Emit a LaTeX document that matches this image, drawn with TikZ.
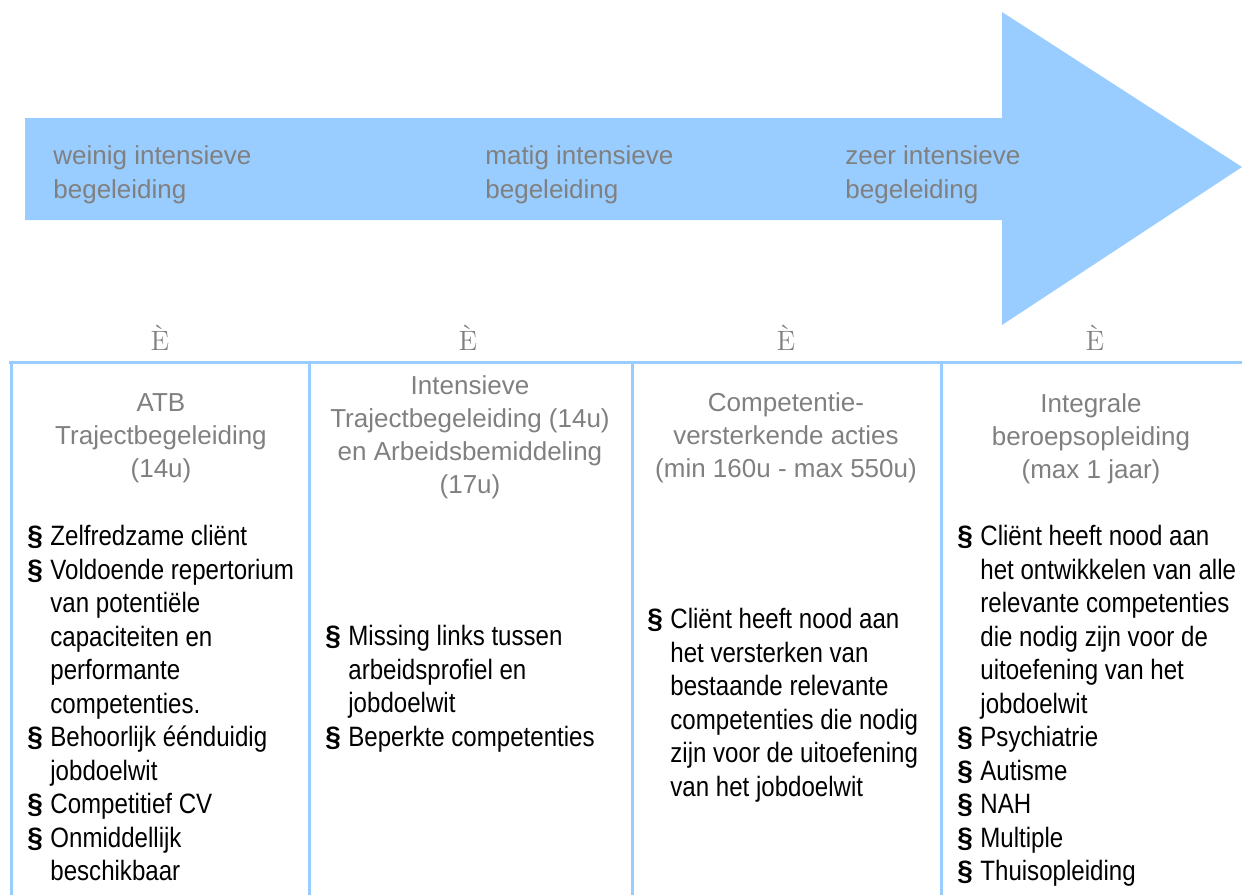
\documentclass[tikz,border=0pt]{standalone}
\usepackage{fontspec}
\usetikzlibrary{positioning}
\newfontfamily\headfont{Liberation Sans}
\newfontfamily\bodyfont[FakeStretch=0.86]{Liberation Sans}
\definecolor{arrowblue}{HTML}{99CCFF}
\definecolor{labelgray}{HTML}{808080}
\newcommand{\itm}{\makebox[11.5pt][l]{\headfont\bfseries §}}
\newcommand{\ind}{\hspace*{11.5pt}}

\begin{document}
\begin{tikzpicture}[x=0.5pt,y=-0.5pt,
  lbl/.style={anchor=north west,align=left,inner sep=0pt,text=labelgray,
    font=\headfont\fontsize{13}{17}\selectfont},
  hdr/.style={anchor=north,align=center,inner sep=0pt,text=labelgray,
    font=\headfont\fontsize{13}{16.5}\selectfont},
  lst/.style={anchor=north west,align=left,inner sep=0pt,
    font=\bodyfont\fontsize{14}{16.75}\selectfont},
  downmark/.style={anchor=base,inner sep=0pt,text=labelgray,font=\fontsize{14}{14}\selectfont},
  rule/.style={draw=arrowblue,line width=1.5pt}]
  \useasboundingbox (0,0) rectangle (1242,895);

  % big arrow
  \fill[arrowblue] (25,118) -- (1002,118) -- (1002,12) -- (1242,167)
    -- (1002,325) -- (1002,220) -- (25,220) -- cycle;
  \node[lbl] (weinig) at (53,145) {weinig intensieve\\begeleiding};
  \node[lbl] (matig) at (485,145) {matig intensieve\\begeleiding};
  \node[lbl] (zeer) at (845,145) {zeer intensieve\\begeleiding};

  % table
  \draw[rule] (9,362) -- (1242,362);
  \foreach \x in {11,309,632,941}
    \draw[rule] (\x,362) -- (\x,895);

  \node[downmark] (m1) at (160,350) {È};
  \node[downmark] (m2) at (468,350) {È};
  \node[downmark] (m3) at (786,350) {È};
  \node[downmark] (m4) at (1095,350) {È};

  \node[hdr] (atb) at (161,393) {ATB\\Trajectbegeleiding\\(14u)};
  \node[hdr] (itb) at (470,375) {Intensieve\\Trajectbegeleiding (14u)\\en Arbeidsbemiddeling\\(17u)};
  \node[hdr] (cva) at (786,392) {Competentie-\\versterkende acties\\(min 160u - max 550u)};
  \node[hdr] (ibo) at (1091,393) {Integrale\\beroepsopleiding\\(max 1 jaar)};

  \node[lst] (atblist) at (27,525) {\itm Zelfredzame cliënt\\
    \itm Voldoende repertorium\\\ind van potentiële\\\ind capaciteiten en\\
    \ind performante\\\ind competenties.\\
    \itm Behoorlijk éénduidig\\\ind jobdoelwit\\
    \itm Competitief CV\\
    \itm Onmiddellijk\\\ind beschikbaar};
  \node[lst] (itblist) at (325,625) {\itm Missing links tussen\\
    \ind arbeidsprofiel en\\\ind jobdoelwit\\
    \itm Beperkte competenties};
  \node[lst] (cvalist) at (647,608) {\itm Cliënt heeft nood aan\\
    \ind het versterken van\\\ind bestaande relevante\\
    \ind competenties die nodig\\\ind zijn voor de uitoefening\\
    \ind van het jobdoelwit};
  \node[lst] (ibolist) at (957,525) {\itm Cliënt heeft nood aan\\
    \ind het ontwikkelen van alle\\\ind relevante competenties\\
    \ind die nodig zijn voor de\\\ind uitoefening van het\\\ind jobdoelwit\\
    \itm Psychiatrie\\\itm Autisme\\\itm NAH\\\itm Multiple\\
    \itm Thuisopleiding};
\end{tikzpicture}
\end{document}
